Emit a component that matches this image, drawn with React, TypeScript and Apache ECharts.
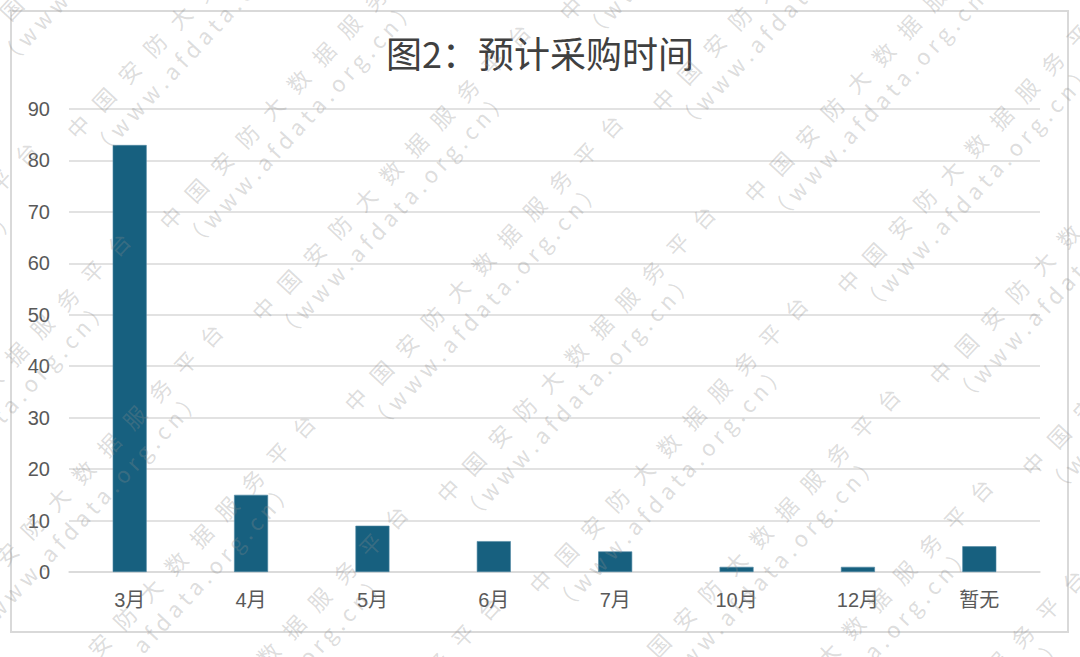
import React, { useEffect, useRef } from "react";
import * as echarts from "echarts";

const TITLE = "图2：预计采购时间";
const categories = ["3月", "4月", "5月", "6月", "7月", "10月", "12月", "暂无"];
const values = [83, 15, 9, 6, 4, 1, 1, 5];
const yMin = 0;
const yMax = 90;
const yInterval = 10;
const WATERMARK_CN = "中国安防大数据服务平台";
const WATERMARK_URL = "（www.afdata.org.cn）";

const LABEL_FONT = "'Liberation Sans', 'Noto Sans CJK SC', sans-serif";

function buildWatermarks() {
  const cn = WATERMARK_CN.split("").join("\u2002\u2009");
  const url = WATERMARK_URL.split("").join(" ");
  const out: any[] = [];
  const ox = 170, oy = 217, ax = 92.5, ay = 91, bx = 585, by = -27;
  const rot = (47 * Math.PI) / 180;
  const fill = "rgba(140,140,140,0.3)";
  const font = "22px 'Noto Sans CJK SC', sans-serif";
  for (let j = -3; j <= 3; j++) {
    for (let i = -14; i <= 14; i++) {
      const x = ox + i * ax + j * bx;
      const y = oy + i * ay + j * by;
      if (x > 1085 || x + 300 < 0 || y < -10 || y - 300 > 660) continue;
      out.push({
        type: "group",
        x,
        y,
        rotation: rot,
        z: 100,
        silent: true,
        children: [
          {
            type: "text",
            x: -11,
            y: 0,
            z: 100,
            style: { text: cn, fill, font, verticalAlign: "middle", align: "left" },
          },
          {
            type: "text",
            x: -8,
            y: 30,
            z: 100,
            style: { text: url, fill, font, verticalAlign: "middle", align: "left" },
          },
        ],
      });
    }
  }
  return out;
}

export default function App() {
  const ref = useRef<HTMLDivElement>(null);
  useEffect(() => {
    if (!ref.current) return;
    const chart = echarts.init(ref.current, undefined, { renderer: "svg" });
    chart.setOption({
      animation: false,
      backgroundColor: "#ffffff",
      title: {
        text: TITLE,
        left: "center",
        top: 29,
        textStyle: {
          fontSize: 36,
          fontWeight: "normal",
          color: "#404040",
          fontFamily: "'Noto Sans CJK SC', sans-serif",
        },
      },
      grid: { left: 69, right: 40, top: 109, bottom: 85, containLabel: false },
      xAxis: {
        type: "category",
        data: categories,
        axisLine: { show: true, lineStyle: { color: "#d9d9d9", width: 1.5 } },
        axisTick: { show: false },
        axisLabel: { color: "#595959", fontSize: 20, margin: 18, fontFamily: LABEL_FONT },
      },
      yAxis: {
        type: "value",
        min: yMin,
        max: yMax,
        interval: yInterval,
        axisLine: { show: false },
        axisTick: { show: false },
        splitLine: { lineStyle: { color: "#d9d9d9", width: 1.5 } },
        axisLabel: { color: "#595959", fontSize: 20, margin: 19, fontFamily: LABEL_FONT },
      },
      series: [
        {
          type: "bar",
          data: values,
          barWidth: "28%",
          itemStyle: { color: "#17607f", borderColor: "#4f86a3", borderWidth: 0.6 },
        },
      ],
      graphic: [
        {
          type: "rect",
          shape: { x: 11, y: 11, width: 1057, height: 621 },
          style: { fill: "none", stroke: "#d9d9d9", lineWidth: 2 },
          z: 1,
          silent: true,
        },
        ...buildWatermarks(),
      ],
    });
    return () => chart.dispose();
  }, []);
  return (
    <div
      ref={ref}
      style={{ position: "absolute", left: 0, top: 0, width: 1080, height: 657 }}
    />
  );
}
